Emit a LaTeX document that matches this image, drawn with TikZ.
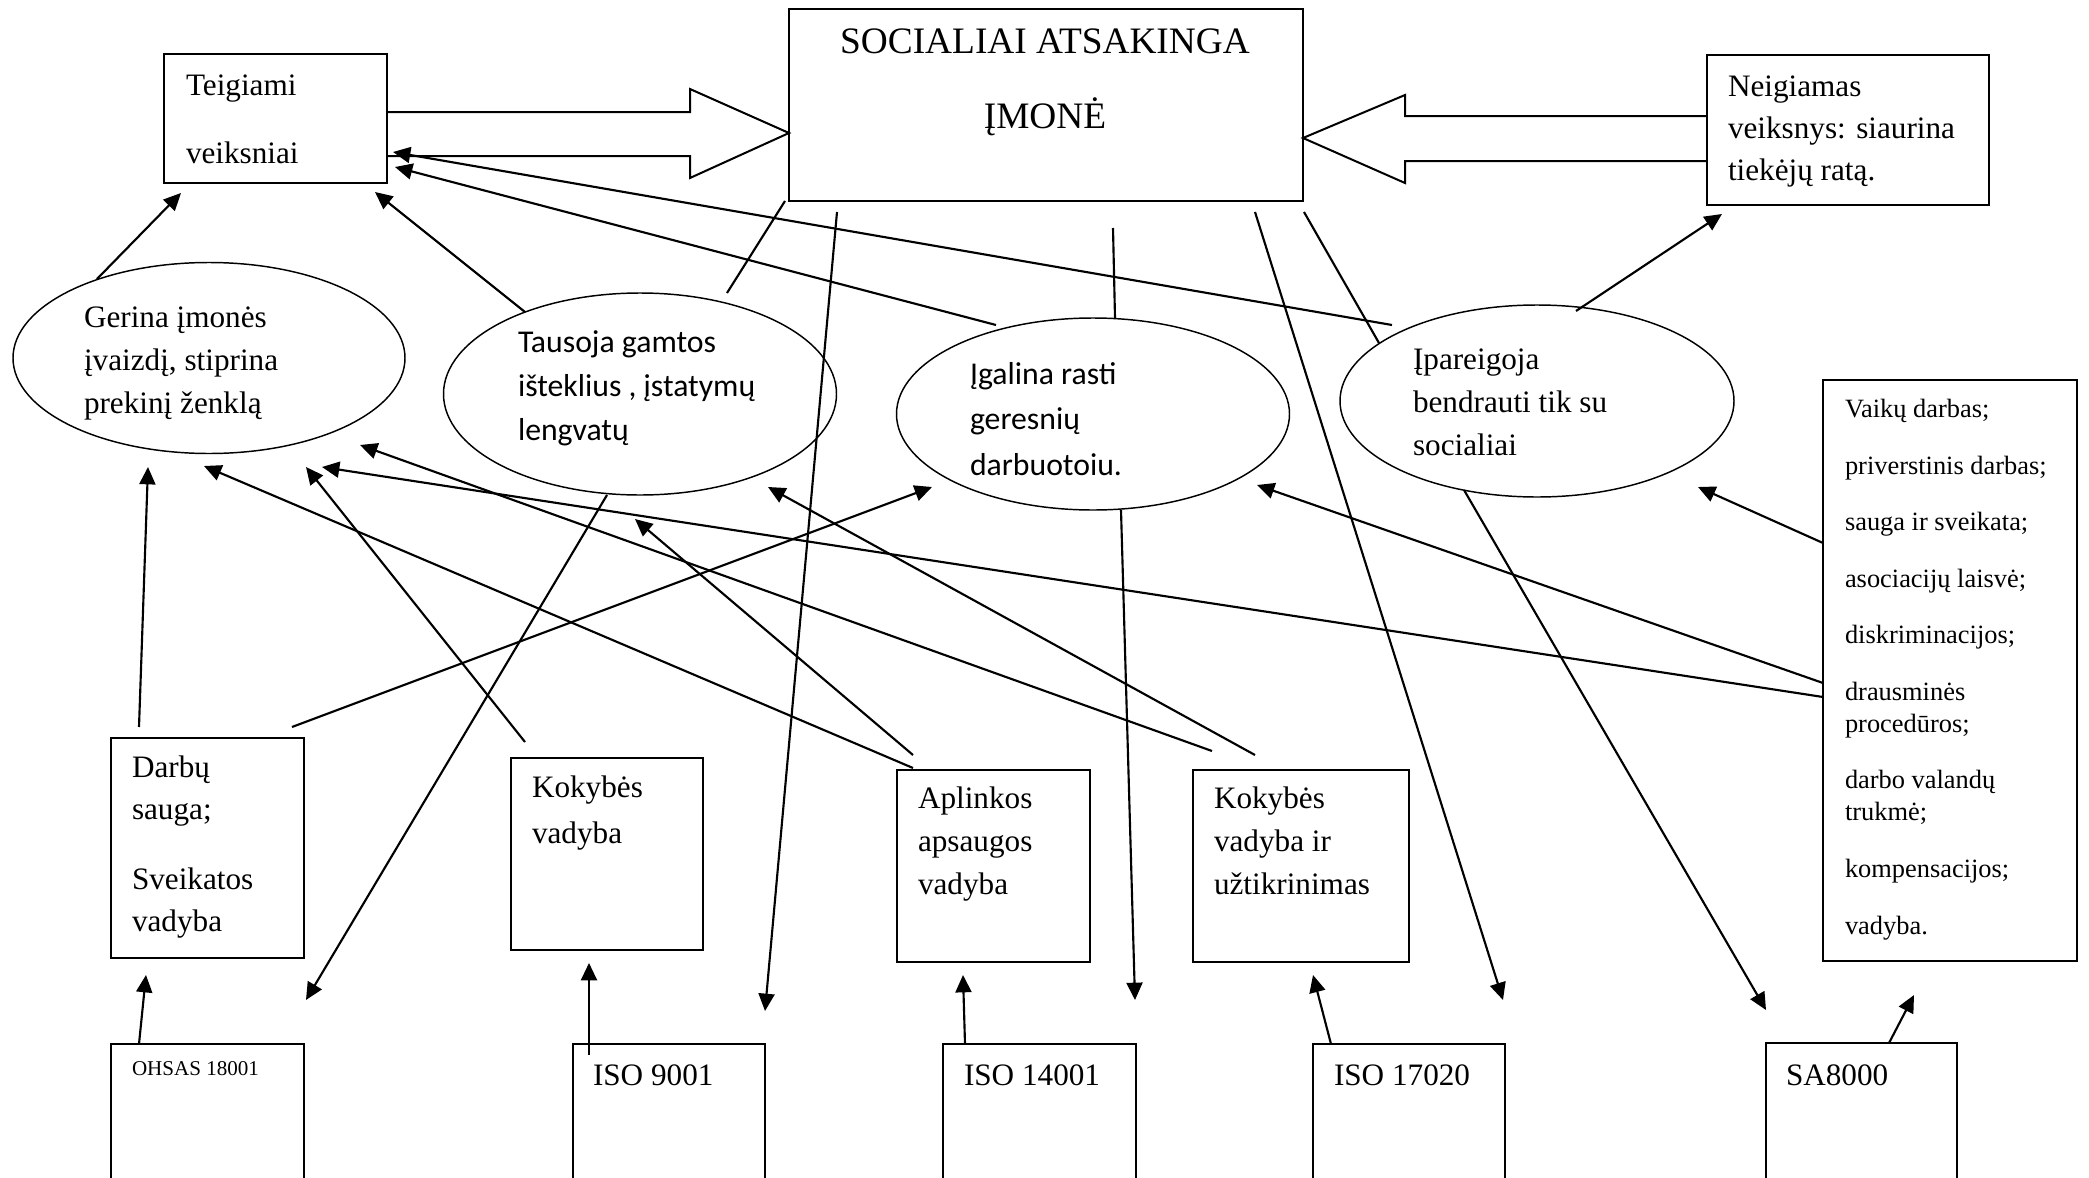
\documentclass[tikz,border=0pt]{standalone}
\usepackage{fontspec}
\setmainfont{Liberation Serif}
\newfontfamily\calfont{Carlito}
\usetikzlibrary{arrows.meta,shapes.geometric}
\newcommand\pxu{0.375pt}
\newcommand\fs[2]{\fontsize{#1}{#2}\selectfont}
\begin{document}
\begin{tikzpicture}[x=0.375pt,y=-0.375pt,
 box/.style={draw, line width=0.75pt, anchor=north west, inner sep=0pt, outer sep=0pt},
 ell/.style={draw, ellipse, line width=0.55pt, inner sep=0pt, outer sep=0pt},
 txt/.style={anchor=base west, align=left, inner sep=0pt, outer sep=0pt},
 arr/.style={line width=0.8pt, -{Triangle[length=6.5pt,width=6pt]}},
 ln/.style={line width=0.8pt},
 hollow/.style={draw, line width=0.75pt, line join=miter}]
\useasboundingbox[fill=white] (0,0) rectangle (2089,1178);

% boxes
\node (T)  [box, minimum width={223*\pxu}, minimum height={129*\pxu}] at (164,54) {};
\node (C)  [box, minimum width={514*\pxu}, minimum height={192*\pxu}] at (789,9) {};
\node (N)  [box, minimum width={282*\pxu}, minimum height={150*\pxu}] at (1707,55) {};
\node (D)  [box, minimum width={193*\pxu}, minimum height={220*\pxu}] at (111,738) {};
\node (KV) [box, minimum width={192*\pxu}, minimum height={192*\pxu}] at (511,758) {};
\node (A)  [box, minimum width={193*\pxu}, minimum height={192*\pxu}] at (897,770) {};
\node (KU) [box, minimum width={216*\pxu}, minimum height={192*\pxu}] at (1193,770) {};
\node (L)  [box, minimum width={254*\pxu}, minimum height={581*\pxu}] at (1823,380) {};
\node (O)  [box, minimum width={193*\pxu}, minimum height={250*\pxu}] at (111,1044) {};
\node (I9) [box, minimum width={192*\pxu}, minimum height={250*\pxu}] at (573,1044) {};
\node (I14)[box, minimum width={193*\pxu}, minimum height={250*\pxu}] at (943,1044) {};
\node (I17)[box, minimum width={192*\pxu}, minimum height={250*\pxu}] at (1313,1044) {};
\node (SA) [box, minimum width={191*\pxu}, minimum height={250*\pxu}] at (1766,1043) {};

% ellipses
\node (E1) [ell, minimum width={392*\pxu}, minimum height={191*\pxu}] at (209,358) {};
\node (E2) [ell, minimum width={393*\pxu}, minimum height={202*\pxu}] at (640,394) {};
\node (E3) [ell, minimum width={393*\pxu}, minimum height={192*\pxu}] at (1093,414) {};
\node (E4) [ell, minimum width={394*\pxu}, minimum height={192*\pxu}] at (1537,401) {};

% texts (anchored at the baseline of their last line)
\node (Ttx) [txt, font={\fs{11.7}{25.5}}] at (186,163) {Teigiami\\veiksniai};
\node (Ctx) [anchor=base, align=center, inner sep=0pt, font={\fs{14}{28.1}}] at (1045,128) {SOCIALIAI ATSAKINGA\\ĮMONĖ};
\node (Ntx) [txt, font={\fs{11.7}{15.75}}] at (1728,180) {Neigiamas\\veiksnys: siaurina\\tiekėjų ratą.};
\node (E1tx) [txt, font={\fs{11.7}{16}}] at (84,413) {Gerina įmonės\\įvaizdį, stiprina\\prekinį ženklą};
\node (E2tx) [txt, font={\calfont\fs{11.9}{16.5}}] at (518,440) {Tausoja gamtos\\išteklius , įstatymų\\lengvatų};
\node (E3tx) [txt, font={\calfont\fs{11.9}{17}}] at (970,475) {Įgalina rasti\\geresnių\\darbuotoiu.};
\node (E4tx) [txt, font={\fs{11.7}{16}}] at (1413,455) {Įpareigoja\\bendrauti tik su\\socialiai};
\node (Dtx) [txt, font={\fs{11.7}{15.75}}] at (132,931) {Darbų\\sauga;\\[10.5pt]Sveikatos\\vadyba};
\node (KVtx) [txt, font={\fs{11.7}{17}}] at (532,843) {Kokybės\\vadyba};
\node (Atx) [txt, font={\fs{11.7}{16}}] at (918,894) {Aplinkos\\apsaugos\\vadyba};
\node (KUtx) [txt, font={\fs{11.7}{16}}] at (1214,894) {Kokybės\\vadyba ir\\užtikrinimas};
\node (Ltx) [txt, font={\fs{9.9}{12}}] at (1845,934) {Vaikų darbas;\\[9.2pt]priverstinis darbas;\\[9.2pt]sauga ir sveikata;\\[9.2pt]asociacijų laisvė;\\[9.2pt]diskriminacijos;\\[9.2pt]drausminės\\procedūros;\\[9.2pt]darbo valandų\\trukmė;\\[9.2pt]kompensacijos;\\[9.2pt]vadyba.};
\node (Otx) [txt, font={\fs{7.9}{9}}] at (132,1075) {OHSAS 18001};
\node (I9tx) [txt, font={\fs{11.7}{14}}] at (593,1085) {ISO 9001};
\node (I14tx) [txt, font={\fs{11.7}{14}}] at (964,1085) {ISO 14001};
\node (I17tx) [txt, font={\fs{11.7}{14}}] at (1334,1085) {ISO 17020};
\node (SAtx) [txt, font={\fs{11.7}{14}}] at (1786,1085) {SA8000};

% hollow block arrows
\draw[hollow] (T.east |- 0,112) -- (690,112) -- (690,89) -- (C.west |- 0,133) -- (690,178) -- (690,156) -- (T.east |- 0,156);
\draw[hollow] (N.west |- 0,116) -- (1405,116) -- (1405,95) -- (C.east |- 0,138) -- (1405,183) -- (1405,161) -- (N.west |- 0,161);

% connector end points
\coordinate (s1) at (97,279);    \coordinate (t1) at (181,193);
\coordinate (s2) at (525,312);   \coordinate (t2) at (375,192);
\coordinate (s3) at (996,325);   \coordinate (t3) at (395,167);
\coordinate (s4) at (1392,325);  \coordinate (t4) at (393,152);
\coordinate (s5) at (837,212);   \coordinate (t5) at (765,1011);
\coordinate (s6) at (1255,212);  \coordinate (t6) at (1503,1000);
\coordinate (s7) at (1576,311);  \coordinate (t7) at (1722,214);
\coordinate (s8) at (1823,543);  \coordinate (t8) at (1698,487);
\coordinate (s9) at (1464,490);  \coordinate (t9) at (1766,1010);
\coordinate (s10) at (1889,1043); \coordinate (t10) at (1914,995);
\coordinate (s11) at (1823,683); \coordinate (t11) at (1257,485);
\coordinate (s12) at (1823,697); \coordinate (t12) at (322,467);
\coordinate (s13) at (607,495);  \coordinate (t13) at (306,1000);
\coordinate (s14) at (292,727);  \coordinate (t14) at (932,487);
\coordinate (s15) at (139,727);  \coordinate (t15) at (148,467);
\coordinate (s16) at (525,742);  \coordinate (t16) at (306,467);
\coordinate (s17) at (913,768);  \coordinate (t17) at (204,466);
\coordinate (s18) at (913,755);  \coordinate (t18) at (635,519);
\coordinate (s19) at (1212,751); \coordinate (t19) at (360,445);
\coordinate (s20) at (1255,755); \coordinate (t20) at (768,487);
\coordinate (s21) at (1121,510); \coordinate (t21) at (1135,1000);
\coordinate (s22) at (139,1044); \coordinate (t22) at (146,975);
\coordinate (s23) at (589,1055); \coordinate (t23) at (589,963);
\coordinate (s24) at (965,1044); \coordinate (t24) at (963,975);
\coordinate (s25) at (1331,1044); \coordinate (t25) at (1313,975);
\coordinate (p1) at (785,201);   \coordinate (q1) at (727,293);
\coordinate (p2) at (1113,228);  \coordinate (q2) at (1115,318);
\coordinate (p3) at (1304,212);  \coordinate (q3) at (1379,343);

% plain lines
\draw[ln] (p1) -- (q1);
\draw[ln] (p2) -- (q2);
\draw[ln] (p3) -- (q3);

% arrows
\foreach \i in {1,...,25} {\draw[arr] (s\i) -- (t\i);}
\end{tikzpicture}
\end{document}
